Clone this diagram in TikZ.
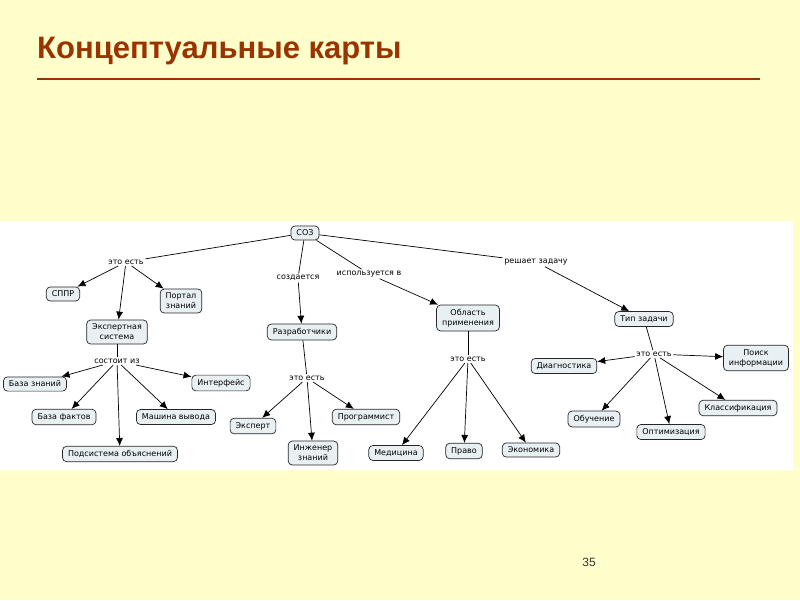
\documentclass[tikz,border=0pt]{standalone}
\usepackage{fontspec}
\usepackage{tikz}
\usetikzlibrary{arrows.meta}
\newfontfamily\mapfont{DejaVu Sans}
\newfontfamily\headfont{Liberation Sans}
\definecolor{slidebg}{RGB}{255,255,204}
\definecolor{headbrown}{RGB}{153,51,0}
\definecolor{boxfill}{RGB}{233,240,244}

\begin{document}
\begin{tikzpicture}[x=1pt,y=-1pt,
  concept/.style={draw=black!85, fill=boxfill, rounded corners=4pt, line width=0.7pt,
    font=\mapfont\fontsize{8}{10}\selectfont, align=center, inner xsep=5.5pt, inner ysep=4pt},
  link/.style={fill=white, font=\mapfont\fontsize{8}{9.5}\selectfont, inner sep=1.5pt},
  edge/.style={draw=black, line width=0.7pt},
  arr/.style={edge, -{Latex[length=8pt,width=7pt]}}]
				\useasboundingbox (0,0) rectangle (800,600);
				\fill [slidebg] (0,0) rectangle (800,600);
				\node [anchor=base west, text=headbrown, inner sep=0pt, font=\headfont\bfseries\fontsize{31}{33}\selectfont] (title) at (37,58) {Концептуальные карты};
				\draw [headbrown, line width=2pt] (37,79) -- (760,79);
				\fill [white] (0,221) rectangle (793,470);
				\node [anchor=base, text=black!80, font=\headfont\fontsize{12}{14}\selectfont] (pagenum) at (589,566) {35};
				% concepts
				\node [concept] (soz) at (305,233) {СОЗ};
				\node [concept] (sppr) at (63,294) {СППР};
				\node [concept] (portal) at (181,301) {Портал\\знаний};
				\node [concept] (expsys) at (117,332) {Экспертная\\система};
				\node [concept] (bz) at (35,384) {База знаний};
				\node [concept] (iface) at (221,383) {Интерфейс};
				\node [concept] (bf) at (64,417) {База фактов};
				\node [concept] (mv) at (176,417) {Машина вывода};
				\node [concept] (podsys) at (120,454) {Подсистема объяснений};
				\node [concept] (razr) at (302,332) {Разработчики};
				\node [concept] (expert) at (253,426) {Эксперт};
				\node [concept] (progr) at (366,417) {Программист};
				\node [concept] (ingen) at (313,453) {Инженер\\знаний};
				\node [concept] (oblast) at (468,318) {Область\\применения};
				\node [concept] (med) at (396,453) {Медицина};
				\node [concept] (pravo) at (464,451) {Право};
				\node [concept] (econ) at (531,450) {Экономика};
				\node [concept] (tip) at (644,319) {Тип задачи};
				\node [concept] (diag) at (564,366) {Диагностика};
				\node [concept] (poisk) at (756,358) {Поиск\\информации};
				\node [concept] (obuch) at (594,419) {Обучение};
				\node [concept] (klass) at (738,408) {Классификация};
				\node [concept] (optim) at (671,432) {Оптимизация};
				% link phrases
				\node [link] (l1) at (126,262) {это есть};
				\node [link] (l2) at (298,278) {создается};
				\node [link] (l3) at (369,274) {используется в};
				\node [link] (l4) at (536,262) {решает задачу};
				\node [link] (l5) at (117,361) {состоит из};
				\node [link] (l6) at (307,378) {это есть};
				\node [link] (l7) at (468,359) {это есть};
				\node [link] (l8) at (654,354) {это есть};
				% connectors
				\draw [edge] (soz) -- (l1);
				\draw [arr] (l1) -- (sppr);
				\draw [arr] (l1) -- (expsys);
				\draw [arr] (l1) -- (portal);
				\draw [edge] (soz) -- (l2);
				\draw [arr] (l2) -- (razr);
				\draw [edge] (soz) -- (l3);
				\draw [arr] (l3) -- (oblast);
				\draw [edge] (soz) -- (l4);
				\draw [arr] (l4) -- (tip);
				\draw [edge] (expsys) -- (l5);
				\draw [arr] (l5) -- (bz);
				\draw [arr] (l5) -- (iface);
				\draw [arr] (l5) -- (bf);
				\draw [arr] (l5) -- (mv);
				\draw [arr] (l5) -- (podsys);
				\draw [edge] (razr) -- (l6);
				\draw [arr] (l6) -- (expert);
				\draw [arr] (l6) -- (ingen);
				\draw [arr] (l6) -- (progr);
				\draw [edge] (oblast) -- (l7);
				\draw [arr] (l7) -- (med);
				\draw [arr] (l7) -- (pravo);
				\draw [arr] (l7) -- (econ);
				\draw [edge] (tip) -- (l8);
				\draw [arr] (l8) -- (diag);
				\draw [arr] (l8) -- (poisk);
				\draw [arr] (l8) -- (obuch);
				\draw [arr] (l8) -- (optim);
				\draw [arr] (l8) -- (klass);
			\end{tikzpicture}
\end{document}
